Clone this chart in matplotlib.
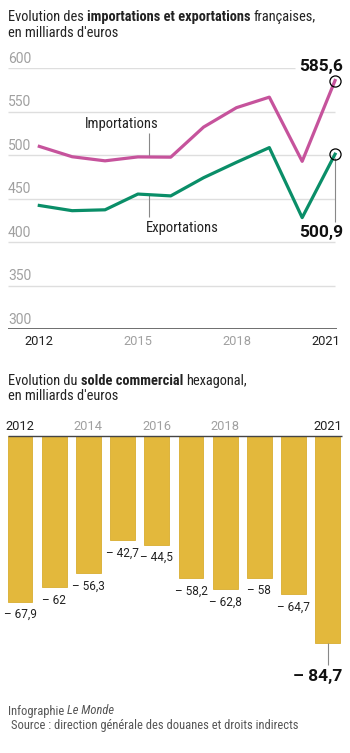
import matplotlib
matplotlib.use("Agg")
import matplotlib.pyplot as plt

plt.rcParams["font.family"] = ["Roboto Condensed", "Liberation Sans", "DejaVu Sans"]
NUM = ["Roboto", "Liberation Sans", "DejaVu Sans"]

years = [2012, 2013, 2014, 2015, 2016, 2017, 2018, 2019, 2020, 2021]
imports = [509.9, 498.0, 493.3, 497.8, 497.5, 532.1, 554.4, 566.5, 492.7, 585.6]
exports = [442.0, 436.0, 437.0, 455.1, 453.0, 473.9, 491.6, 508.5, 428.0, 500.9]
solde = [-67.9, -62, -56.3, -42.7, -44.5, -58.2, -62.8, -58, -64.7, -84.7]
solde_labels = ["– 67,9", "– 62", "– 56,3", "– 42,7", "– 44,5", "– 58,2", "– 62,8", "– 58", "– 64,7", "– 84,7"]
yticks = [300, 350, 400, 450, 500, 550, 600]

W, H = 350, 753
PINK = "#c6539c"
GREEN = "#0a8e68"
GOLD = "#e3b83c"
GRAY = "#a0a0a0"
INK = "#222222"

fig = plt.figure(figsize=(3.5, 7.53), dpi=100)
renderer = fig.canvas.get_renderer()


def fx(x):
    return x / W


def fy(y):
    return 1 - y / H


def text_w(s, **kw):
    t = fig.text(0, 0, s, **kw)
    w = t.get_window_extent(renderer).width
    t.remove()
    return w


def rich_line(x, y, parts, size=10.4, color=INK):
    # morceaux de texte normal / gras / italique sur une ligne
    sp = text_w("a a", fontsize=size) - text_w("aa", fontsize=size)
    for s, weight, style in parts:
        if s.startswith(" "):
            x += sp
            s = s.lstrip(" ")
        t = fig.text(fx(x), fy(y), s, fontsize=size, weight=weight, style=style,
                     va="center", ha="left", color=color)
        x += t.get_window_extent(renderer).width


# ---- titre 1
rich_line(8, 17, [("Evolution des", "normal", "normal"),
                  (" importations et exportations", "bold", "normal"),
                  (" françaises,", "normal", "normal")])
rich_line(8, 33, [("en milliards d'euros", "normal", "normal")])

# ---- graphique lignes
ax1 = fig.add_axes([0, fy(329), 1, (329 - 68) / H])
xpx = 32.86
ypx = 0.87
x_left = 2012 - 39.3 / xpx
ax1.set_xlim(x_left, 2012 + (350 - 39.3) / xpx)
ax1.set_ylim(300, 600)
ax1.axis("off")
gx0 = x_left + 8 / xpx
gx1 = x_left + 335 / xpx

for v in yticks[1:]:
    xe = gx1 if v != 600 else x_left + 295 / xpx
    ax1.hlines(v, gx0, xe, color="#dedede", lw=1, zorder=1)
for v in yticks:
    ax1.text(gx0, v + 2.5, str(v), color=GRAY, fontsize=10, family=NUM,
             va="bottom", ha="left")
ax1.hlines(300, gx0, x_left + 337 / xpx, color="#555555", lw=1.2, zorder=1)

ax1.plot(years, imports, color=PINK, lw=2.3, zorder=3)
ax1.plot(years, exports, color=GREEN, lw=2.3, zorder=3)

ax1.plot(years[-1], imports[-1], "o", mfc="none", mec="black", ms=8, mew=0.9, clip_on=False, zorder=4)
ax1.plot(years[-1], exports[-1], "o", mfc="none", mec="black", ms=8, mew=0.9, clip_on=False, zorder=4)
ax1.vlines(years[-1], 423, exports[-1] - 4.5, color="#888888", lw=0.8)
ax1.text(x_left + 343 / xpx, 600 + 2 / ypx, "585,6", fontsize=12.5, family=NUM, weight="bold",
         ha="right", va="center", color="#111111", clip_on=False,
         bbox=dict(facecolor="white", edgecolor="none", pad=1))
ax1.text(x_left + 343 / xpx, 300 + (329 - 232) / ypx, "500,9", fontsize=12.5, family=NUM, weight="bold",
         ha="right", va="center", color="#111111")

# etiquettes des series
xa = 2015.34
ax1.vlines(xa, 498.5, 525, color="#888888", lw=0.8)
ax1.vlines(xa, 429, 454.5, color="#888888", lw=0.8)
ax1.text(2014.51, 535.6, "Importations", fontsize=10.5, ha="center", va="center", color=INK)
ax1.text(2016.36, 416.4, "Exportations", fontsize=10.5, ha="center", va="center", color=INK)

yl = 300 - (341.7 - 329) / ypx
ax1.text(2012, yl, "2012", fontsize=9.3, family=NUM, ha="center", va="center", color=INK, clip_on=False)
ax1.text(2015, yl, "2015", fontsize=9.3, family=NUM, ha="center", va="center", color=GRAY, clip_on=False)
ax1.text(2018, yl, "2018", fontsize=9.3, family=NUM, ha="center", va="center", color=GRAY, clip_on=False)
ax1.text(x_left + 340 / xpx, yl, "2021", fontsize=9.3, family=NUM, ha="right", va="center", color=INK,
         clip_on=False)

# ---- titre 2
rich_line(8, 381, [("Evolution du", "normal", "normal"),
                   (" solde commercial", "bold", "normal"),
                   (" hexagonal,", "normal", "normal")])
rich_line(8, 396, [("en milliards d'euros", "normal", "normal")])

# ---- graphique barres
bpx = 34.2
upx = 2.44
ax2 = fig.add_axes([0, fy(700), 1, (700 - 436) / H])
b_left = -20 / bpx
ax2.set_xlim(b_left, b_left + 350 / bpx)
ax2.set_ylim(-(700 - 436) / upx, 0)
ax2.axis("off")

idx = list(range(len(years)))
ax2.bar(idx, solde, width=0.72, color=GOLD, edgecolor="#d9ad30", lw=0.6, zorder=2)
ax2.hlines(0, b_left + 8 / bpx, b_left + 342 / bpx, color="#444444", lw=1, zorder=3, clip_on=False)

for i, (v, lab) in enumerate(zip(solde[:-1], solde_labels[:-1])):
    ax2.text(i, v - 13 / upx, lab, fontsize=8.5, family=NUM, ha="center", va="center", color=INK)
ax2.vlines(idx[-1], -93.9, solde[-1], color="#888888", lw=0.8)
ax2.text(b_left + 342 / bpx, -(677 - 436) / upx, solde_labels[-1], fontsize=12.5, family=NUM,
         weight="bold", ha="right", va="center", color="#111111")

yb = (436 - 426.7) / upx
for i, y in enumerate(years):
    if y in (2014, 2016, 2018):
        ax2.text(i, yb, str(y), fontsize=9.3, family=NUM, ha="center", va="center", color=GRAY, clip_on=False)
ax2.text(0, yb, "2012", fontsize=9.3, family=NUM, ha="center", va="center", color=INK, clip_on=False)
ax2.text(b_left + 342 / bpx, yb, "2021", fontsize=9.3, family=NUM, ha="right", va="center", color=INK,
         clip_on=False)

# ---- pied
rich_line(8, 711, [("Infographie", "normal", "normal"), (" Le Monde", "normal", "italic")],
          size=9, color="#555555")
fig.text(fx(11), fy(726), "Source : direction générale des douanes et droits indirects", fontsize=9,
         color="#555555", va="center")

fig.savefig("out.png", dpi=100, facecolor="white")
